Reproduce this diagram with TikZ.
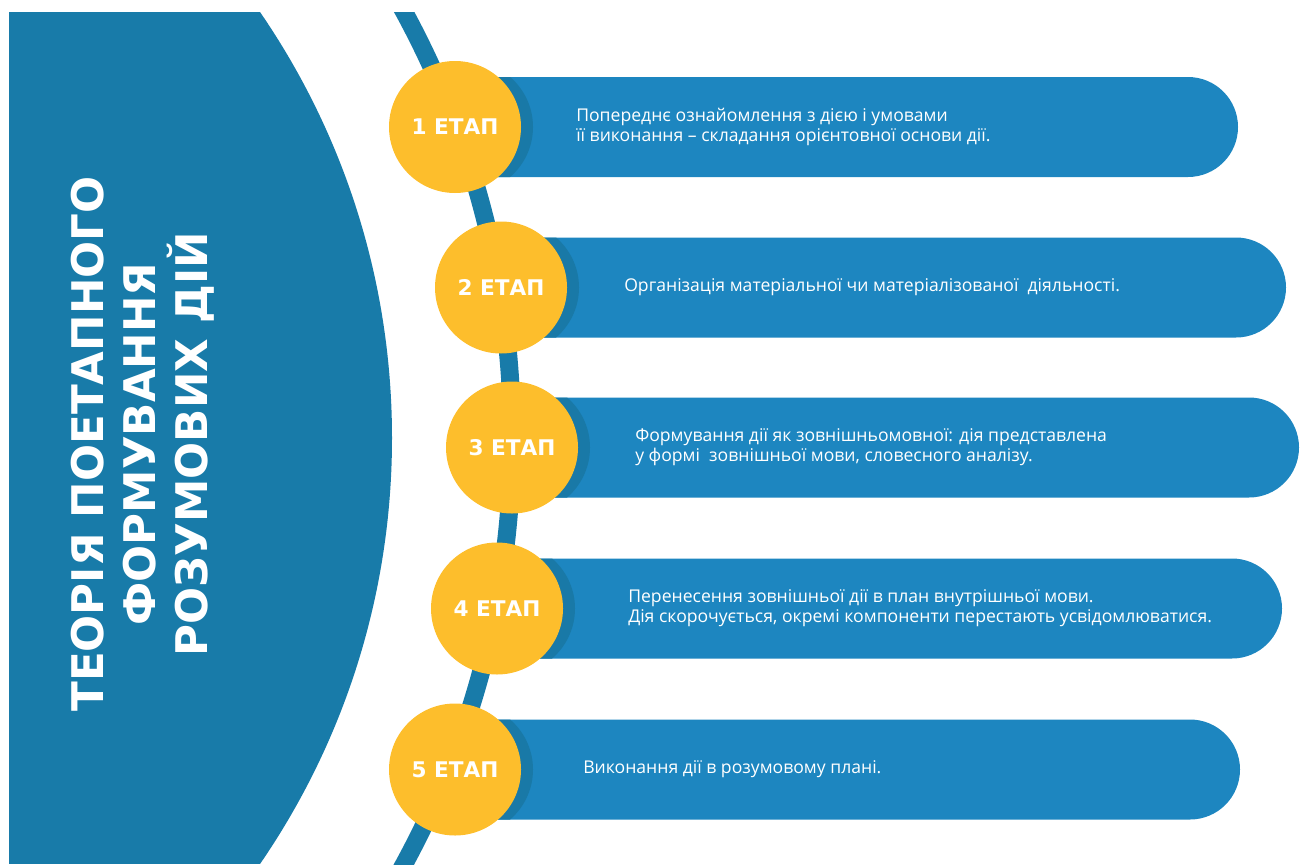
\documentclass[tikz,border=0pt]{standalone}
\usepackage{fontspec}
\setmainfont{Open Sans}
\newfontfamily\headfont{DejaVu Sans}
\usepackage{tikz}
\usepackage{color}

\definecolor{arcblue}{RGB}{24,123,169}
\definecolor{pillblue}{RGB}{29,134,192}
\definecolor{shadeblue}{RGB}{25,121,167}
\definecolor{stageyellow}{RGB}{253,190,44}

\tikzset{
  stage/.style={circle, fill=stageyellow, minimum size=99pt, inner sep=0pt,
    text=white, font=\headfont\bfseries\fontsize{16.2}{18}\selectfont},
  desc/.style={anchor=west, align=left, text=white,
    font=\fontsize{13.2}{15}\selectfont, inner sep=0.75pt},
}

% pill: centre x, centre y, right end x
\newcommand{\stagepill}[3]{%
  \fill[pillblue] (#1,#2-50) -- (#3-50,#2-50) arc (-90:90:50) -- (#1,#2+50) -- cycle;
  \begin{scope}
    \clip (#1,#2-50) -- (#3-50,#2-50) arc (-90:90:50) -- (#1,#2+50) -- cycle;
    \fill[shadeblue] (#1+12,#2) circle (66);
  \end{scope}
}

\begin{document}
\begin{tikzpicture}[x=0.75pt,y=0.75pt,yscale=-1,xscale=1]
\useasboundingbox (0,0) rectangle (1306,864);

%Shape: big segment on the left
\begin{scope}
  \clip (-361,438) circle (753);
  \fill[arcblue] (9,12) rectangle (1306,864);
\end{scope}

%Curve Lines: thin arc behind the stages
\begin{scope}
  \clip (0,12) rectangle (1306,864);
  \draw[arcblue, line width=13.5pt] (-382,438) circle (894);
\end{scope}

%Shape: pills
\stagepill{455}{127}{1238}
\stagepill{501}{287.5}{1286}
\stagepill{512}{447.5}{1299}
\stagepill{497}{608.5}{1282}
\stagepill{455}{769.5}{1240}

% Stage circles
\node[stage] (s1) at (455,127) {1 ЕТАП};
\node[stage] (s2) at (501,287.5) {2 ЕТАП};
\node[stage] (s3) at (512,447.5) {3 ЕТАП};
\node[stage] (s4) at (497,608.5) {4 ЕТАП};
\node[stage] (s5) at (455,769.5) {5 ЕТАП};

% Text Node
\node[desc] (t1) at (575,127) {Попереднє ознайомлення з дією і умовами\\її виконання -- складання орієнтовної основи дії.};
% Text Node
\node[desc] (t2) at (623,287.5) {Організація матеріальної чи матеріалізованої \ діяльності.};
% Text Node
\node[desc] (t3) at (634,447.5) {Формування дії як зовнішньомовної: дія представлена\\у формі \ зовнішньої мови, словесного аналізу.};
% Text Node
\node[desc] (t4) at (627,608.5) {Перенесення зовнішньої дії в план внутрішньої мови.\\Дія скорочується, окремі компоненти перестають усвідомлюватися.};
% Text Node
\node[desc] (t5) at (582,769.5) {Виконання дії в розумовому плані.};

% Title
\node[rotate=90, align=center, text=white, inner sep=0pt,
  font=\headfont\bfseries\fontsize{32.7}{39}\selectfont] (title) at (143,444)
  {ТЕОРІЯ ПОЕТАПНОГО\\ФОРМУВАННЯ\\РОЗУМОВИХ ДІЙ};

\end{tikzpicture}
\end{document}
